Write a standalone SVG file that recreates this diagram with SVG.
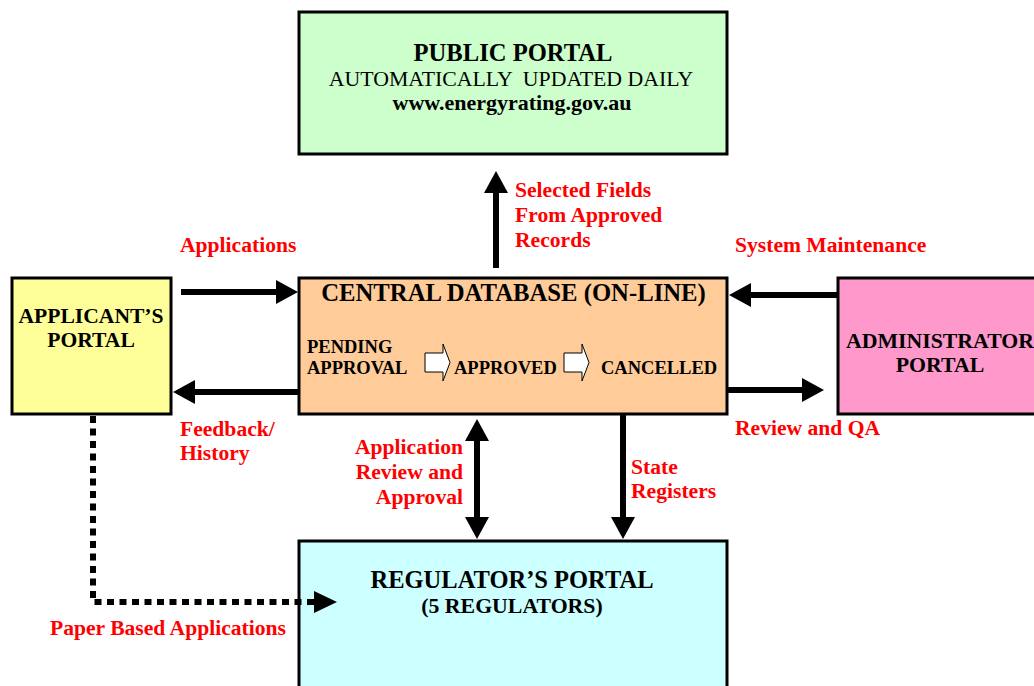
<svg xmlns="http://www.w3.org/2000/svg" width="1034" height="686" viewBox="0 0 1034 686">
<style>
text { font-family: "Liberation Serif", "Times New Roman", serif; font-weight: bold; fill: #000; }
.n { font-weight: normal; }
.lbl { fill: #FF0000; font-size: 21.6px; }
.c { text-anchor: middle; }
.r { text-anchor: end; }
.box { stroke: #000; stroke-width: 3; }
.arr { stroke: #000; stroke-width: 6; fill: none; marker-end: url(#head); }
.blk { fill: #fff; stroke: #000; stroke-width: 1; }
</style>
<defs>
<marker id="head" viewBox="0 0 22 24" markerWidth="22" markerHeight="24" markerUnits="userSpaceOnUse" refX="1" refY="12" orient="auto-start-reverse">
<path d="M0,0 L22,12 L0,24 Z" fill="#000"/>
</marker>
</defs>
<rect width="1034" height="686" fill="#fff"/>

<g id="public-portal">
<rect class="box" x="299" y="12" width="428" height="142" fill="#CCFFCC"/>
<text class="c" x="513" y="61" font-size="24.6">PUBLIC PORTAL</text>
<text class="c n" x="511" y="86" font-size="21.8" style="white-space:pre">AUTOMATICALLY  UPDATED DAILY</text>
<text class="c" x="512" y="110" font-size="22">www.energyrating.gov.au</text>
</g>

<g id="central-database">
<rect class="box" x="299" y="278" width="428" height="136" fill="#FFCC99"/>
<text class="c" x="513.5" y="301" font-size="24.7">CENTRAL DATABASE (ON-LINE)</text>
<text x="307" y="353" font-size="18.5">PENDING</text>
<text x="307" y="374" font-size="18.5">APPROVAL</text>
<polygon class="blk" points="425,353 443,353 443,344 450,362.5 443,381 443,372 425,372"/>
<text x="454" y="374" font-size="18.5">APPROVED</text>
<polygon class="blk" points="564,353 582,353 582,344 589,362.5 582,381 582,372 564,372"/>
<text x="601" y="374" font-size="18.5">CANCELLED</text>
</g>

<g id="applicants-portal">
<rect class="box" x="12" y="278" width="159" height="136" fill="#FFFF99"/>
<text class="c" x="91" y="323" font-size="21.6">APPLICANT’S</text>
<text class="c" x="91" y="347" font-size="21.6">PORTAL</text>
</g>

<g id="administrator-portal">
<rect class="box" x="838" y="278" width="210" height="136" fill="#FF99CC"/>
<text class="c" x="940" y="348" font-size="21.8">ADMINISTRATOR</text>
<text class="c" x="940" y="372" font-size="21.8">PORTAL</text>
</g>

<g id="regulators-portal">
<rect class="box" x="299" y="541" width="428" height="160" fill="#CCFFFF"/>
<text class="c" x="512" y="588" font-size="24.5">REGULATOR’S PORTAL</text>
<text class="c" x="512" y="613" font-size="21.8">(5 REGULATORS)</text>
</g>

<g id="connectors">
<path class="arr" d="M181,292 H277"/>
<path class="arr" d="M299,392 H194"/>
<path class="arr" d="M837,295 H750"/>
<path class="arr" d="M728,390 H803"/>
<path class="arr" d="M496,268 V192"/>
<path class="arr" d="M477,440 V518" style="marker-start:url(#head)"/>
<path class="arr" d="M623,415 V518"/>
<path d="M93,416 V602 H314" fill="none" stroke="#000" stroke-width="6" stroke-dasharray="7 5.5"/>
<path d="M314,591 L337,602 L314,613 Z" fill="#000"/>
</g>

<g id="labels">
<text class="lbl" x="180" y="252">Applications</text>
<text class="lbl" x="515" y="197">Selected Fields</text>
<text class="lbl" x="515" y="222">From Approved</text>
<text class="lbl" x="515" y="247">Records</text>
<text class="lbl" x="735" y="252">System Maintenance</text>
<text class="lbl" x="180" y="436">Feedback/</text>
<text class="lbl" x="180" y="460">History</text>
<text class="lbl" x="735" y="435">Review and QA</text>
<text class="lbl r" x="463" y="454">Application</text>
<text class="lbl r" x="463" y="479">Review and</text>
<text class="lbl r" x="463" y="504">Approval</text>
<text class="lbl" x="631" y="474">State</text>
<text class="lbl" x="631" y="498">Registers</text>
<text class="lbl" x="50" y="635">Paper Based Applications</text>
</g>
</svg>
